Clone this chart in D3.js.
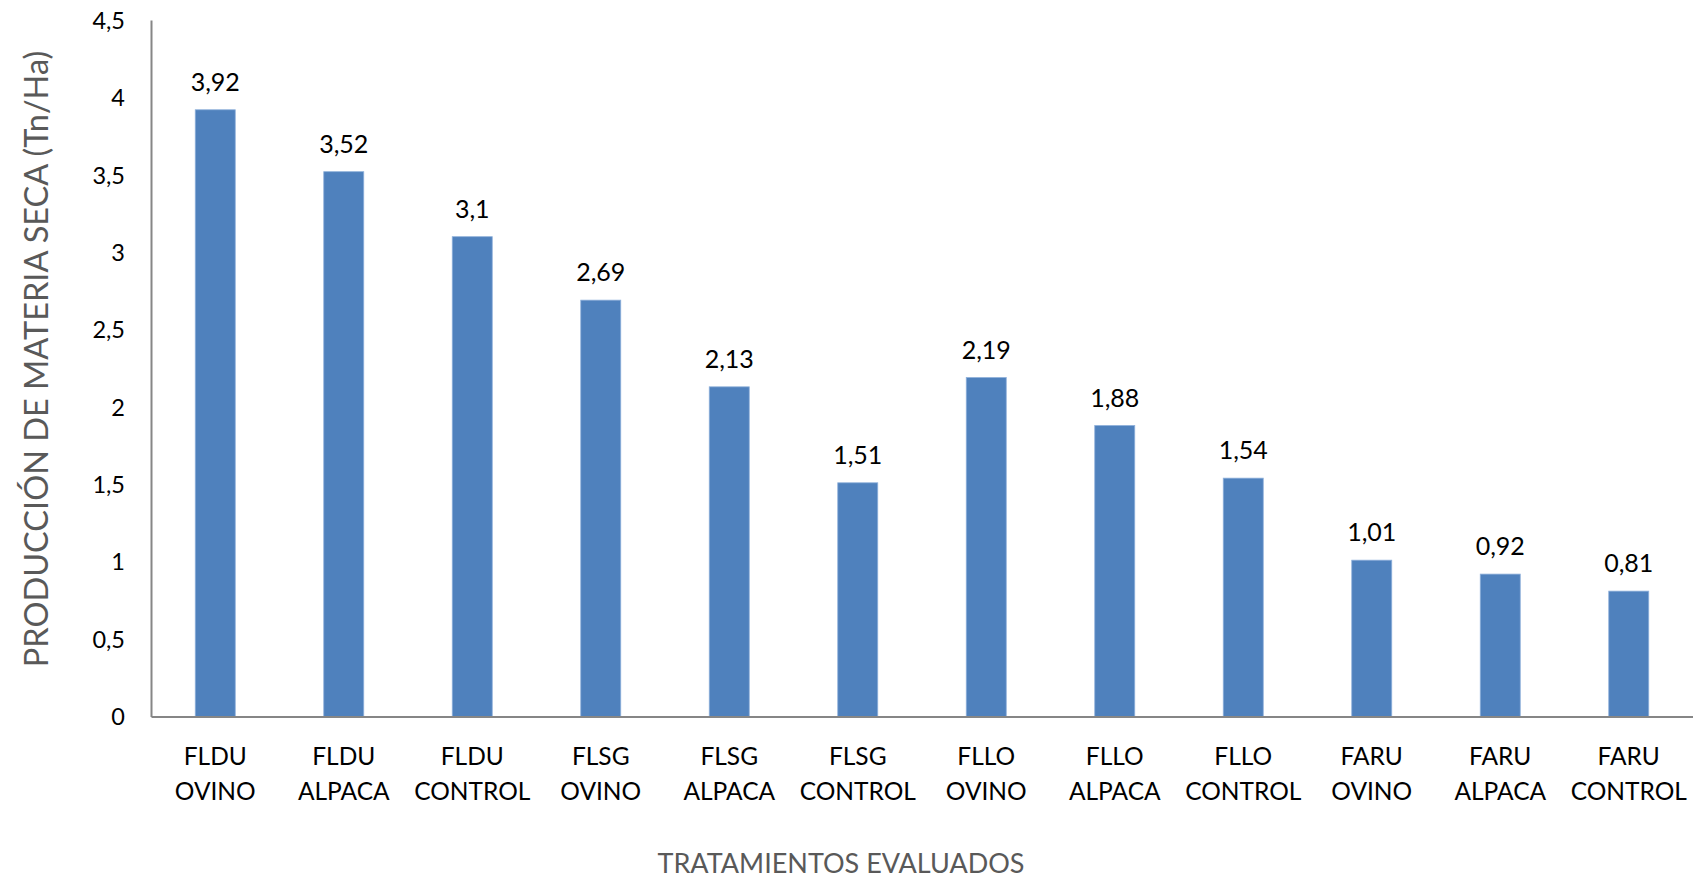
<!DOCTYPE html>
<html><head><meta charset="utf-8">
<script src="https://cdn.jsdelivr.net/npm/d3@7"></script>
<style>body{margin:0;background:#fff}svg{display:block}</style>
</head><body>
<script>
const categories = [
  ["FLDU","OVINO"],["FLDU","ALPACA"],["FLDU","CONTROL"],
  ["FLSG","OVINO"],["FLSG","ALPACA"],["FLSG","CONTROL"],
  ["FLLO","OVINO"],["FLLO","ALPACA"],["FLLO","CONTROL"],
  ["FARU","OVINO"],["FARU","ALPACA"],["FARU","CONTROL"]
];
const values = [3.92,3.52,3.1,2.69,2.13,1.51,2.19,1.88,1.54,1.01,0.92,0.81];
const yTicks = [0,0.5,1,1.5,2,2.5,3,3.5,4,4.5];
const yTitle = "PRODUCCIÓN DE MATERIA SECA (Tn/Ha)";
const xTitle = "TRATAMIENTOS EVALUADOS";

const W = 1693, H = 879;
const font = "Lato, 'Open Sans', sans-serif";
const fmt = v => String(v).replace(".", ",");

const svg = d3.select("body").append("svg").attr("width", W).attr("height", H);

const x = d3.scaleBand().domain(d3.range(categories.length)).range([151, 1693]).paddingInner(0).paddingOuter(0);
const y = d3.scaleLinear().domain([0, 4.5]).range([716.5, 20]);
const barW = 40;

// bars
svg.append("g").selectAll("rect").data(values).join("rect")
  .attr("x", (d,i) => x(i) + x.bandwidth()/2 - barW/2)
  .attr("y", d => y(d))
  .attr("width", barW)
  .attr("height", d => y(0) - y(d))
  .attr("fill", "#4F81BD")
  .attr("stroke", "#8EB0DA").attr("stroke-width", 0.8);

// value labels
svg.append("g").selectAll("text").data(values).join("text")
  .attr("x", (d,i) => x(i) + x.bandwidth()/2)
  .attr("y", d => y(d) - 19)
  .attr("text-anchor", "middle")
  .attr("font-family", font).attr("font-size", 25).attr("fill", "#000")
  .text(d => fmt(d));

// y axis
const yAxis = d3.axisLeft(y).tickValues(yTicks).tickSize(0).tickPadding(26).tickFormat(fmt);
const gy = svg.append("g").attr("transform", "translate(151,0)").call(yAxis);
gy.select(".domain").attr("stroke", "#868686").attr("stroke-width", 2);
gy.selectAll("text").attr("font-family", font).attr("font-size", 23.5).attr("fill", "#000").attr("dy", "0.35em");

// x axis
const xAxis = d3.axisBottom(x).tickSize(0).tickFormat("");
const gx = svg.append("g").attr("transform", `translate(0,${y(0)})`).call(xAxis);
gx.select(".domain").attr("stroke", "#868686").attr("stroke-width", 2);

const cl = svg.append("g").selectAll("text").data(categories).join("text")
  .attr("x", (d,i) => x(i) + x.bandwidth()/2)
  .attr("text-anchor", "middle")
  .attr("font-family", font).attr("font-size", 24.5).attr("fill", "#000");
cl.append("tspan").attr("x", (d,i) => x(i) + x.bandwidth()/2).attr("y", 765).text(d => d[0]);
cl.append("tspan").attr("x", (d,i) => x(i) + x.bandwidth()/2).attr("y", 800).text(d => d[1]);

// axis titles
svg.append("text").attr("x", 841).attr("y", 873).attr("text-anchor", "middle")
  .attr("font-family", font).attr("font-size", 27).attr("fill", "#595959").text(xTitle);
svg.append("text").attr("transform", "translate(48,359) rotate(-90)").attr("text-anchor", "middle")
  .attr("font-family", font).attr("font-size", 32.5).attr("fill", "#595959").text(yTitle);
</script>
</body></html>
